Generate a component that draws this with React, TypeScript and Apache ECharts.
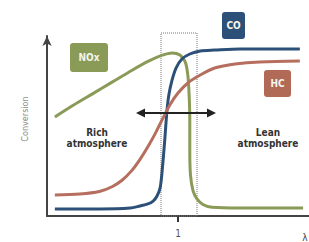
import React, { useEffect, useRef } from "react";
import * as echarts from "echarts";

// λ (air ratio) and conversion (%)
const coLambda = [0.812, 0.881, 0.927, 0.942, 0.954, 0.962, 0.968, 0.973, 0.977, 0.98, 0.983, 0.986, 0.991, 0.997, 1.006, 1.018, 1.034, 1.056, 1.095, 1.186];
const coConv = [3.9, 3.9, 4.4, 5.6, 6.7, 8.3, 11.1, 16.1, 30.0, 43.3, 57.8, 67.2, 75.6, 82.2, 87.2, 90.0, 91.7, 92.2, 92.8, 92.8];

const hcLambda = [0.812, 0.85, 0.88, 0.9, 0.915, 0.93, 0.942, 0.954, 0.965, 0.977, 0.988, 1.0, 1.015, 1.034, 1.056, 1.087, 1.125, 1.186];
const hcConv = [11.7, 12.2, 13.6, 16.4, 20.0, 25.5, 31.5, 38.5, 45.6, 54.4, 62.0, 68.3, 73.9, 78.3, 82.2, 84.4, 85.6, 86.1];

const noxLambda = [0.812, 0.84, 0.87, 0.9, 0.93, 0.955, 0.975, 0.991, 1.003, 1.011, 1.015, 1.017, 1.018, 1.018, 1.019, 1.023, 1.029, 1.038, 1.052, 1.095, 1.191];
const noxConv = [55.0, 61.5, 68.0, 74.5, 81.0, 86.0, 89.2, 90.6, 89.4, 85.6, 78.3, 67.2, 53.3, 36.7, 23.0, 14.0, 9.5, 6.4, 4.8, 4.4, 4.4];

const xTicks = [1];
const seriesNames = ["NOx", "CO", "HC"];
const yTitle = "Conversion";
const xTitle = "λ";
const richText = "Rich\natmosphere";
const leanText = "Lean\natmosphere";

const GREEN = "#8a9a57";
const BLUE = "#2c5078";
const RED = "#b66f5e";
const FONT = "DejaVu Sans Condensed";

const zip = (xs: number[], ys: number[]) => xs.map((x, i) => [x, ys[i]]);

export default function App() {
  const ref = useRef<HTMLDivElement>(null);
  useEffect(() => {
    if (!ref.current) return;
    const chart = echarts.init(ref.current, undefined, { renderer: "svg" });
    const lineSeries = (name: string, data: number[][], color: string) => ({
      name,
      type: "line",
      data,
      smooth: 0.3,
      symbol: "none",
      lineStyle: { color, width: 3 },
      z: 3,
    });
    const tag = (x: number, y: number, w: number, h: number, text: string, fill: string) => ({
      type: "group",
      x,
      y,
      children: [
        { type: "rect", shape: { x: 0, y: 0, width: w, height: h, r: 3 }, style: { fill } },
        {
          type: "text",
          x: w / 2,
          y: h / 2,
          style: { text, fill: "#f4f4ee", font: `bold 10px "${FONT}"`, align: "center", verticalAlign: "middle" },
        },
      ],
    });
    chart.setOption({
      animation: false,
      grid: { left: 47, right: 0, top: 36, bottom: 26 },
      xAxis: {
        type: "value",
        min: 0.8,
        max: 1.2,
        splitLine: { show: false },
        axisLine: { lineStyle: { color: "#444", width: 2 } },
        axisTick: { show: true, customValues: xTicks, length: 6, lineStyle: { color: "#333", width: 2 } },
        axisLabel: { customValues: xTicks, color: "#555", fontSize: 10, fontFamily: FONT, margin: 12 },
      },
      yAxis: {
        type: "value",
        min: 0,
        max: 100,
        splitLine: { show: false },
        axisTick: { show: false },
        axisLabel: { show: false },
        axisLine: { lineStyle: { color: "#444", width: 2 }, symbol: ["none", "arrow"], symbolSize: [7, 10] },
      },
      series: [
        lineSeries(seriesNames[0], zip(noxLambda, noxConv), GREEN),
        lineSeries(seriesNames[1], zip(coLambda, coConv), BLUE),
        lineSeries(seriesNames[2], zip(hcLambda, hcConv), RED),
      ],
      graphic: [
        {
          type: "rect",
          shape: { x: 161, y: 33, width: 36, height: 183 },
          style: { fill: "none", stroke: "#777", lineWidth: 1, lineDash: [1, 1] },
          z: 1,
        },
        { type: "line", shape: { x1: 142, y1: 113, x2: 210, y2: 113 }, style: { stroke: "#222", lineWidth: 2 }, z: 10 },
        { type: "polygon", shape: { points: [[136, 113], [145, 108.5], [145, 117.5]] }, style: { fill: "#222" }, z: 10 },
        { type: "polygon", shape: { points: [[216, 113], [207, 108.5], [207, 117.5]] }, style: { fill: "#222" }, z: 10 },
        tag(70, 43, 38, 29, seriesNames[0], GREEN),
        tag(222, 12, 23, 27, seriesNames[1], BLUE),
        tag(264, 70, 27, 27, seriesNames[2], "#b06a55"),
        {
          type: "text",
          x: 97,
          y: 138,
          style: { text: richText, fill: "#333", font: `bold 10px "${FONT}"`, align: "center", verticalAlign: "middle", lineHeight: 11 },
          z: 10,
        },
        {
          type: "text",
          x: 268,
          y: 138,
          style: { text: leanText, fill: "#333", font: `bold 10px "${FONT}"`, align: "center", verticalAlign: "middle", lineHeight: 11 },
          z: 10,
        },
        {
          type: "text",
          x: 25,
          y: 119,
          rotation: Math.PI / 2,
          style: { text: yTitle, fill: "#8a8a8a", font: `9px "${FONT}"`, align: "center", verticalAlign: "middle" },
        },
        {
          type: "text",
          x: 305,
          y: 237,
          style: { text: xTitle, fill: "#444", font: `10px "${FONT}"`, align: "center", verticalAlign: "middle" },
        },
      ],
    });
    return () => chart.dispose();
  }, []);
  return <div ref={ref} style={{ position: "absolute", left: 0, top: 0, width: 309, height: 242 }} />;
}
